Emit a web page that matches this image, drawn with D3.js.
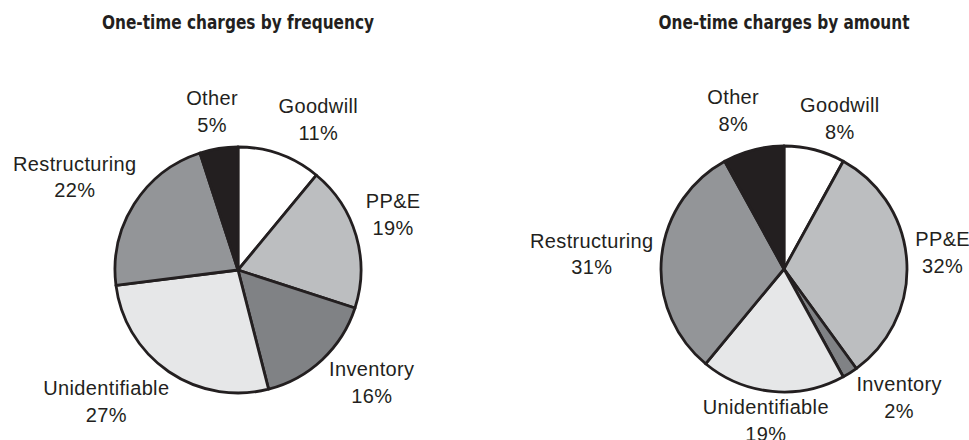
<!DOCTYPE html>
<html>
<head>
<meta charset="utf-8">
<script src="https://cdn.jsdelivr.net/npm/d3@7"></script>
<style>
  html, body { margin: 0; padding: 0; background: #ffffff; }
  svg { display: block; }
  .title { font-family: "Liberation Sans Narrow", "DejaVu Sans Condensed", "DejaVu Sans", sans-serif; font-weight: bold; font-size: 20px; fill: #231f20; }
  .label { font-family: "Liberation Sans", Arial, sans-serif; font-size: 20px; letter-spacing: 0.35px; fill: #231f20; }
</style>
</head>
<body>
<svg id="chart" width="969" height="440"></svg>
<script>
// Categories, clockwise from twelve o'clock
const categories = ["Goodwill", "PP&E", "Inventory", "Unidentifiable", "Restructuring", "Other"];

// Share of one-time charges (%)
const frequencyValues = [11, 19, 16, 27, 22, 5];
const amountValues    = [8, 32, 2, 19, 31, 8];

const chartTitles = ["One-time charges by frequency", "One-time charges by amount"];

// Slice fills, one per category
const sliceColors = ["#ffffff", "#bcbec0", "#808285", "#e6e7e8", "#939598", "#231f20"];

// Label nudges from the outer centroid (per chart, per category)
const frequencyNudges = [[22, 5], [-10, -14], [16, -19], [-35, -17], [-18, -7], [1, 5]];
const amountNudges    = [[13, 10], [-13, -12], [23, -23], [-2, -26], [-21, -5], [-8, 2]];

const svg = d3.select("#chart");
const radius = 123;
const labelRadius = 172;
const lineGap = 26.5;
const titleWidth = 272; // condensed width of the first title; the second is scaled alike

const panels = [
  { title: chartTitles[0], values: frequencyValues, nudges: frequencyNudges, cx: 238, cy: 270 },
  { title: chartTitles[1], values: amountValues,    nudges: amountNudges,    cx: 784, cy: 269 }
];

const pie = d3.pie().sort(null).value(d => d.value);
const arc = d3.arc().innerRadius(0).outerRadius(radius);
const labelArc = d3.arc().innerRadius(labelRadius).outerRadius(labelRadius);

const titleNodes = [];

panels.forEach(p => {
  const data = categories.map((c, i) => ({ name: c, value: p.values[i], color: sliceColors[i], nudge: p.nudges[i] }));
  const arcs = pie(data);

  const t = svg.append("text")
    .attr("class", "title")
    .attr("x", p.cx)
    .attr("y", 29)
    .attr("text-anchor", "middle")
    .text(p.title);
  titleNodes.push(t);

  const g = svg.append("g").attr("transform", `translate(${p.cx},${p.cy})`);

  g.selectAll("path.slice")
    .data(arcs)
    .join("path")
    .attr("class", "slice")
    .attr("d", arc)
    .attr("fill", d => d.data.color)
    .attr("stroke", "#231f20")
    .attr("stroke-width", 2.8)
    .attr("stroke-linejoin", "round");

  const labels = g.selectAll("text.label")
    .data(arcs)
    .join("text")
    .attr("class", "label")
    .attr("text-anchor", "middle")
    .attr("transform", d => {
      const [x, y] = labelArc.centroid(d);
      return `translate(${x + d.data.nudge[0]},${y + d.data.nudge[1]})`;
    });

  labels.append("tspan").attr("x", 0).attr("y", 0).text(d => d.data.name);
  labels.append("tspan").attr("x", 0).attr("y", lineGap).text(d => d.data.value + "%");
});

// Condense the bold titles horizontally by a shared ratio
const squeeze = titleWidth / titleNodes[0].node().getComputedTextLength();
titleNodes.forEach(t => {
  const w = t.node().getComputedTextLength();
  t.attr("textLength", w * squeeze).attr("lengthAdjust", "spacingAndGlyphs");
});
</script>
</body>
</html>
